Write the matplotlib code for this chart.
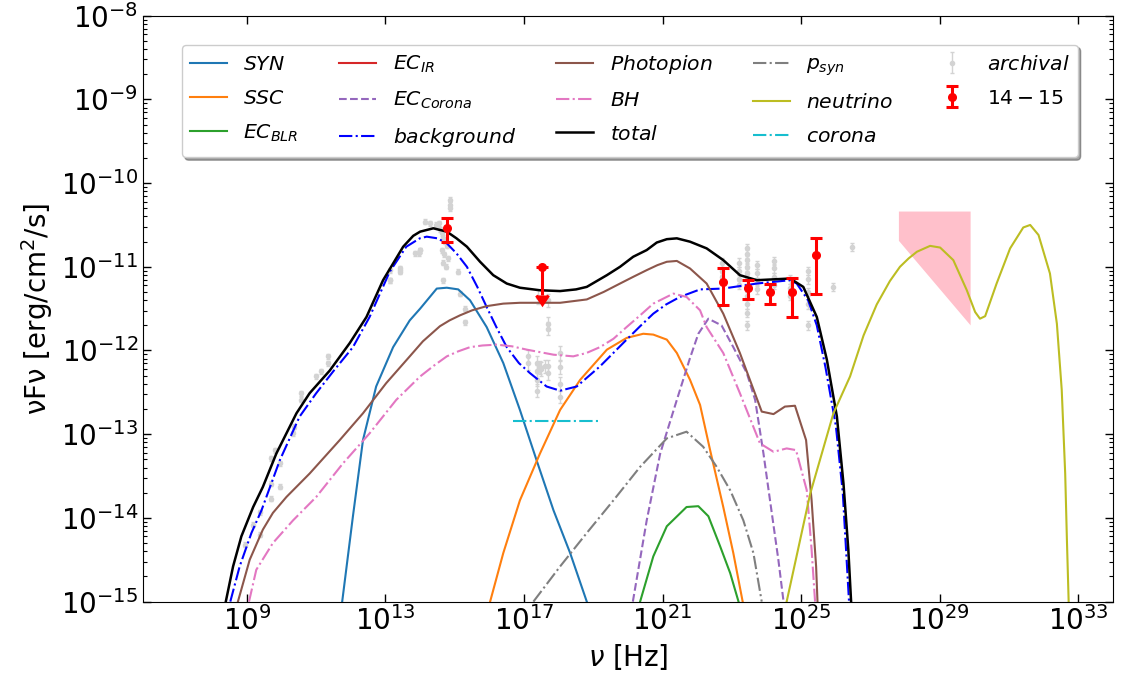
import numpy as np
import matplotlib
matplotlib.use('Agg')
import matplotlib.pyplot as plt
from matplotlib.ticker import FixedLocator, NullLocator, LogFormatterSciNotation

# ---- model curves: log10(nu [Hz]) and log10(nuFnu [erg/cm2/s]) ----
syn_lx = [11.75, 12.06, 12.35, 12.73, 13.22, 13.70, 14.0, 14.48, 14.77, 15.10, 15.44, 15.92, 16.40, 16.88, 17.36, 17.85, 18.33, 18.81]
syn_ly = [-15.0, -13.98, -13.07, -12.43, -11.96, -11.64, -11.50, -11.26, -11.25, -11.27, -11.40, -11.72, -12.15, -12.71, -13.31, -13.91, -14.42, -15.0]

ssc_lx = [16.02, 16.40, 16.88, 17.46, 18.04, 18.62, 19.39, 19.96, 20.44, 20.73, 21.12, 21.41, 21.79, 22.08, 22.37, 22.75, 23.04, 23.31]
ssc_ly = [-15.0, -14.42, -13.79, -13.23, -12.71, -12.35, -11.99, -11.85, -11.80, -11.81, -11.87, -12.03, -12.35, -12.65, -13.19, -13.87, -14.42, -15.0]

blr_lx = [20.35, 20.73, 21.12, 21.69, 22.03, 22.32, 22.66, 22.95, 23.19]
blr_ly = [-15.0, -14.46, -14.10, -13.87, -13.86, -13.98, -14.34, -14.66, -15.0]

ecc_lx = [20.14, 20.54, 20.93, 21.41, 21.79, 22.03, 22.32, 22.70, 23.04, 23.43, 23.67, 23.91, 24.15, 24.34, 24.49]
ecc_ly = [-15.0, -14.03, -13.23, -12.59, -12.09, -11.80, -11.62, -11.70, -11.96, -12.27, -12.59, -13.23, -13.94, -14.50, -15.0]

bg_lx = [8.52, 8.79, 9.13, 9.42, 9.95, 10.52, 11.0, 11.49, 12.06, 12.54, 13.12, 13.60, 13.99, 14.19, 14.50, 14.77, 15.05, 15.35, 15.65, 15.92,
         16.20, 16.50, 16.85, 17.17, 17.65, 18.04, 18.52, 19.19, 19.60, 19.96, 20.35, 20.73, 21.10, 21.50, 22.08, 22.75, 23.72, 24.68,
         24.87, 25.2, 25.45, 25.7, 26.0, 26.2, 26.38]
bg_ly = [-15.0, -14.58, -14.18, -13.91, -13.31, -12.79, -12.51, -12.25, -11.96, -11.60, -11.06, -10.76, -10.66, -10.64, -10.66, -10.72, -10.84, -11.00, -11.24, -11.48,
         -11.72, -11.96, -12.15, -12.27, -12.43, -12.48, -12.43, -12.19, -12.02, -11.87, -11.71, -11.56, -11.45, -11.36, -11.27, -11.26, -11.20, -11.16,
         -11.20, -11.40, -11.70, -12.20, -12.90, -13.70, -15.0]

pp_lx = [8.74, 9.08, 9.46, 9.75, 10.14, 10.81, 11.68, 12.35, 13.02, 13.70, 14.08, 14.57, 14.85, 15.15, 15.50, 15.92, 16.40, 16.88, 18.04, 18.81,
         19.30, 19.77, 20.15, 20.54, 20.85, 21.12, 21.41, 21.79, 22.27, 22.75, 23.23, 23.86, 24.20, 24.53, 24.82, 25.14, 25.30, 25.43, 25.47]
pp_ly = [-15.0, -14.50, -14.14, -13.94, -13.75, -13.47, -13.07, -12.75, -12.39, -12.07, -11.89, -11.71, -11.64, -11.58, -11.52, -11.47, -11.44, -11.43, -11.43, -11.39,
         -11.30, -11.20, -11.12, -11.04, -10.98, -10.94, -10.93, -11.02, -11.20, -11.56, -12.03, -12.73, -12.76, -12.67, -12.66, -13.07, -13.79, -14.58, -15.0]

bh_lx = [9.06, 9.27, 9.75, 10.33, 11.0, 11.77, 12.54, 13.31, 14.0, 14.40, 14.77, 15.10, 15.44, 15.80, 16.21, 16.65, 17.08, 17.85, 18.42, 18.80,
         19.19, 19.58, 19.96, 20.35, 20.73, 21.31, 21.69, 22.08, 22.27, 22.75, 23.23, 23.81, 24.20, 24.58, 24.85, 25.16, 25.30, 25.40]
bh_ly = [-15.0, -14.62, -14.30, -14.03, -13.75, -13.35, -12.99, -12.59, -12.31, -12.18, -12.07, -12.01, -11.96, -11.94, -11.93, -11.95, -11.99, -12.05, -12.07, -12.03,
         -11.96, -11.86, -11.72, -11.58, -11.44, -11.32, -11.36, -11.52, -11.72, -12.03, -12.51, -13.11, -13.21, -13.17, -13.19, -13.67, -14.38, -15.0]

tot_lx = [8.39, 8.60, 8.84, 9.18, 9.46, 9.85, 10.43, 10.81, 11.39, 11.97, 12.45, 12.93, 13.51, 13.80, 14.0, 14.38, 14.77, 15.05, 15.35, 15.73,
          16.11, 16.50, 16.88, 17.45, 18.04, 18.50, 18.81, 19.39, 19.77, 20.15, 20.54, 20.83, 21.12, 21.41, 21.79, 22.27, 22.75, 23.23, 23.72, 24.20,
          24.68, 25.06, 25.45, 25.74, 26.03, 26.22, 26.36, 26.44]
tot_ly = [-15.0, -14.58, -14.22, -13.87, -13.63, -13.23, -12.75, -12.51, -12.24, -11.91, -11.60, -11.16, -10.76, -10.63, -10.58, -10.54, -10.58, -10.66, -10.76, -10.94,
          -11.10, -11.20, -11.25, -11.28, -11.29, -11.27, -11.24, -11.10, -11.00, -10.88, -10.80, -10.71, -10.67, -10.66, -10.70, -10.78, -10.92, -11.10, -11.16, -11.15,
          -11.14, -11.24, -11.60, -12.11, -12.79, -13.59, -14.38, -15.0]

psyn_lx = [17.27, 18.04, 18.81, 19.58, 20.35, 21.12, 21.69, 22.17, 22.56, 22.95, 23.33, 23.62, 23.86]
psyn_ly = [-15.0, -14.58, -14.18, -13.79, -13.39, -13.05, -12.97, -13.15, -13.39, -13.67, -14.03, -14.42, -15.0]

nu_lx = [24.58, 25.26, 25.93, 26.41, 26.80, 27.18, 27.56, 27.85, 28.10, 28.34, 28.72, 29.01, 29.39, 29.78, 30.02, 30.16, 30.31, 30.64, 31.03, 31.41,
         31.61, 31.85, 32.18, 32.38, 32.52, 32.62, 32.67, 32.72]
nu_ly = [-15.0, -13.71, -12.75, -12.31, -11.82, -11.45, -11.17, -11.00, -10.90, -10.82, -10.75, -10.77, -10.92, -11.28, -11.54, -11.62, -11.59, -11.20, -10.78, -10.53,
         -10.50, -10.62, -11.08, -11.68, -12.47, -13.47, -14.27, -15.0]

corona_lx = [16.69, 19.19]
corona_ly = [-12.84, -12.84]

# IceCube-like band (pink region)
band_lx = [27.82, 29.89, 29.89, 27.82]
band_ly = [-10.34, -10.34, -11.70, -10.69]

# ---- data: 14-15 (red) ----
red_lx = [14.77, 22.73, 23.45, 24.10, 24.74, 25.43]
red_ly = [-10.54, -11.18, -11.25, -11.30, -11.30, -10.86]
red_hi = [-10.42, -11.02, -11.16, -11.20, -11.13, -10.65]
red_lo = [-10.70, -11.46, -11.38, -11.45, -11.60, -11.33]
ul_lx = [17.51]
ul_ly = [-11.00]
ul_lo = [-11.34]

# ---- archival data (grey) ----
arch_lx = [8.93, 9.18, 9.37, 9.37, 9.70, 9.70, 9.70, 9.80, 9.95, 9.95, 10.33, 10.36, 10.57, 10.57, 11.0, 11.15, 11.34, 11.34,
           13.12, 13.12, 13.41, 13.41, 13.84, 13.99, 14.14, 14.29, 14.86, 14.86, 14.86, 14.57, 14.62, 14.67, 14.72, 14.77, 14.62,
           14.70, 14.80, 14.67, 14.75, 14.0, 13.96, 13.42, 13.13, 14.67, 15.10, 15.15, 15.30, 15.30, 14.45, 14.55,
           17.41, 17.70, 17.70, 17.70, 17.12, 17.12, 17.38, 17.38, 17.38, 17.38, 17.45, 17.50, 17.60, 17.70, 17.70,
           18.05, 18.05, 18.05, 18.05,
           22.70, 22.70, 22.70, 23.21, 23.21, 23.21, 23.21, 23.43, 23.43, 23.43, 23.43, 23.43, 23.43, 23.43, 23.43, 23.43,
           23.43, 23.43, 23.72, 23.72, 23.72, 23.72, 24.20, 24.20, 24.20, 24.20, 24.68, 24.68, 24.68, 25.21, 25.21, 25.21,
           25.21, 25.21, 25.93, 26.46]
arch_ly = [-14.32, -14.08, -14.20, -13.93, -13.77, -13.59, -13.29, -13.19, -13.63, -13.35, -12.99, -12.91, -12.51, -12.59, -12.31, -12.25, -12.07, -12.15,
           -11.04, -11.16, -11.02, -11.06, -10.84, -10.80, -10.46, -10.48, -10.20, -10.26, -10.30, -10.55, -10.60, -10.65, -10.70, -10.75, -10.80,
           -10.85, -10.90, -10.95, -11.00, -10.80, -10.84, -11.04, -11.16, -11.16, -11.06, -11.32, -11.50, -11.66, -10.50, -10.48,
           -11.36, -11.40, -11.68, -11.74, -12.07, -12.15, -12.15, -12.25, -12.35, -12.48, -12.20, -12.22, -12.19, -12.19, -12.27,
           -12.03, -12.20, -12.40, -12.55,
           -10.95, -11.05, -11.12, -10.95, -11.05, -11.15, -11.22, -10.78, -10.85, -10.92, -11.00, -11.08, -11.15, -11.25, -11.35, -11.45,
           -11.55, -11.70, -10.98, -11.08, -11.18, -11.27, -10.93, -11.02, -11.12, -11.22, -11.15, -11.25, -11.35, -11.05, -11.15, -11.30,
           -11.45, -11.70, -11.24, -10.76]
arch_err = [0.03] * 50 + [0.08] * 19 + [0.05] * 36

yticks = [1e-15, 1e-14, 1e-13, 1e-12, 1e-11, 1e-10, 1e-9, 1e-8]
xticks = [1e9, 1e13, 1e17, 1e21, 1e25, 1e29, 1e33]

# ---- figure ----
fig = plt.figure(figsize=(11.22, 6.76), dpi=100)
ax = fig.add_axes([0.12745, 0.11006, 0.86453, 0.86672])


def P(lx, ly):
    return 10 ** np.asarray(lx, float), 10 ** np.asarray(ly, float)


ax.plot(*P(syn_lx, syn_ly), color='tab:blue', lw=1.5, label='$SYN$')
ax.plot(*P(ssc_lx, ssc_ly), color='tab:orange', lw=1.5, label='$SSC$')
ax.plot(*P(blr_lx, blr_ly), color='tab:green', lw=1.5, label='$EC_{BLR}$')
ax.plot([], [], color='tab:red', lw=1.5, label='$EC_{IR}$')
ax.plot(*P(ecc_lx, ecc_ly), color='tab:purple', lw=1.5, ls='--', label='$EC_{Corona}$')
ax.plot(*P(bg_lx, bg_ly), color='blue', lw=1.5, ls='-.', label='$background$')
ax.plot(*P(pp_lx, pp_ly), color='tab:brown', lw=1.5, label='$Photopion$')
ax.plot(*P(bh_lx, bh_ly), color='tab:pink', lw=1.5, ls='-.', label='$BH$')
ax.plot(*P(tot_lx, tot_ly), color='black', lw=1.8, label='$total$')
ax.plot(*P(psyn_lx, psyn_ly), color='tab:gray', lw=1.5, ls='-.', label='$p_{syn}$')
ax.plot(*P(nu_lx, nu_ly), color='tab:olive', lw=1.5, label='$neutrino$')
ax.plot(*P(corona_lx, corona_ly), color='tab:cyan', lw=1.5, ls='-.', label='$corona$')

ax.fill(*P(band_lx, band_ly), color='pink', lw=0, zorder=0)

ax_x, ax_y = P(arch_lx, arch_ly)
ae = np.asarray(arch_err)
ax.errorbar(ax_x, ax_y, yerr=[ax_y * (1 - 10 ** -ae), ax_y * (10 ** ae - 1)], fmt='o', color='lightgray',
            ms=3, elinewidth=1, capsize=1.5, label='$archival$', zorder=1)

rx, ry = P(red_lx, red_ly)
rhi = 10 ** np.asarray(red_hi)
rlo = 10 ** np.asarray(red_lo)
ax.errorbar(rx, ry, yerr=[ry - rlo, rhi - ry], fmt='o', color='red', ms=5.5, elinewidth=2.2,
            capsize=4.5, capthick=2.2, label='$14-15$', zorder=5)
ux, uy = P(ul_lx, ul_ly)
ulo = 10 ** np.asarray(ul_lo)
ax.errorbar(ux, uy, yerr=[uy - ulo, np.zeros_like(uy)], uplims=True, fmt='o', color='red', ms=5.5,
            elinewidth=2.2, capsize=4.5, capthick=2.2, zorder=5)

ax.set_xscale('log')
ax.set_yscale('log')
ax.set_xlim(1e6, 1e34)
ax.set_ylim(1e-15, 1e-8)
ax.xaxis.set_major_locator(FixedLocator(xticks))
ax.xaxis.set_major_formatter(LogFormatterSciNotation())
ax.xaxis.set_minor_locator(NullLocator())
ax.yaxis.set_major_locator(FixedLocator(yticks))
ax.yaxis.set_major_formatter(LogFormatterSciNotation())
yminor = [m * t for t in yticks[:-1] for m in range(2, 10)]
ax.yaxis.set_minor_locator(FixedLocator(yminor))
ax.tick_params(which='both', direction='in', top=True, right=True, labelsize=20)
ax.tick_params(which='major', length=5.5, width=1)
ax.tick_params(which='minor', length=3, width=0.8)

ax.set_xlabel(r'$\nu$ [Hz]', fontsize=20)
ax.set_ylabel('νFν [erg/cm$^2$/s]', fontsize=20)

ax.legend(loc='upper center', bbox_to_anchor=(0.502, 0.968), ncol=5, fontsize=14.7, shadow=True,
          frameon=True, handlelength=1.8, labelspacing=0.73)

fig.savefig('out.png', dpi=100)
